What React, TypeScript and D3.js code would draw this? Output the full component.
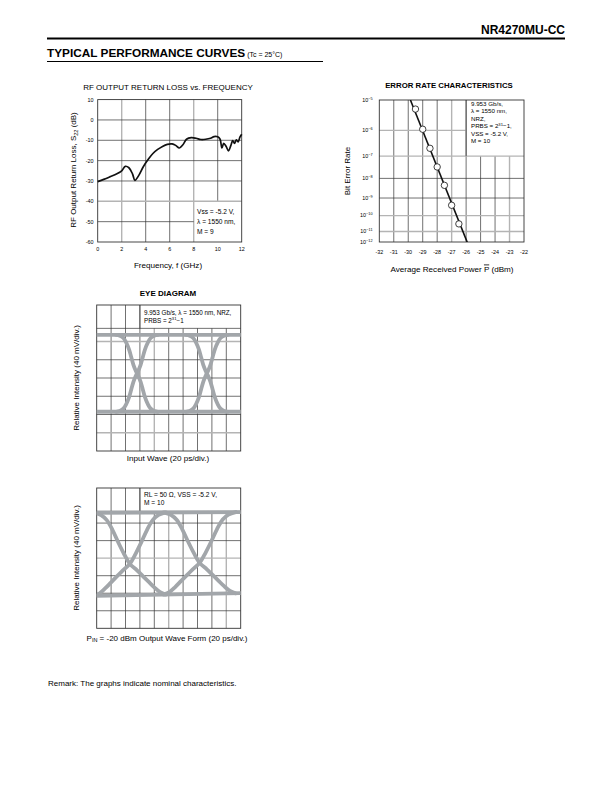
import React from 'react';
import * as d3 from 'd3';

const FONT = "'Liberation Sans', Arial, Helvetica, sans-serif";

// ---------- RF output return loss vs frequency ----------
const rfFreq = [0, 0.5, 1.0, 1.6, 2.0, 2.3, 2.6, 2.9, 3.1, 3.4, 3.8, 4.2, 4.6, 5.0, 5.4, 5.8, 6.2, 6.5, 6.8, 7.1, 7.4, 7.8, 8.2, 8.6, 9.0, 9.4, 9.7, 10.0, 10.2, 10.35, 10.5, 10.7, 10.9, 11.1, 11.25, 11.4, 11.55, 11.7, 11.85, 12.0];
const rfLoss = [-30.3, -29.2, -28.0, -26.5, -25.0, -22.8, -23.5, -26.5, -29.7, -27.5, -23.0, -19.5, -16.5, -14.5, -13.0, -12.0, -11.8, -12.5, -13.8, -12.2, -9.5, -8.7, -9.0, -9.6, -9.5, -9.0, -8.2, -8.3, -9.5, -13.8, -11.5, -13.0, -15.2, -12.5, -10.2, -11.5, -9.8, -10.8, -8.5, -7.0];
const rfXTicks = [0, 2, 4, 6, 8, 10, 12];
const rfYTicks = [10, 0, -10, -20, -30, -40, -50, -60];
const rfNote = ['Vss = -5.2 V,', 'λ = 1550 nm,', 'M = 9'];

// ---------- Error rate ----------
const berPower = [-29.5, -29.0, -28.5, -28.0, -27.5, -27.0, -26.5];
const berValue = [5.25e-6, 1.1e-6, 2.09e-7, 3.39e-8, 4.57e-9, 3.98e-10, 3.09e-11];
const berFitPower = [-29.85, -25.85];
const berFitValue = [1e-5, 1.2e-12];
const berXTicks = [-32, -31, -30, -29, -28, -27, -26, -25, -24, -23, -22];
const berExponents = [5, 6, 7, 8, 9, 10, 11, 12];
const berNote = ['9.953 Gb/s,', 'λ = 1550 nm,', 'NRZ,'];

// ---------- Eye diagrams (time in ps, level in divisions) ----------
const eyeTimeTicks = [0, 20, 40, 60, 80, 100, 120, 140, 160, 180, 200];
const eyeLevelTicks = [0, 1, 2, 3, 4, 5, 6, 7, 8];

const inCrossPs = [56, 153];
const inRailT = [0, 200];
const inUpper = [6.36, 6.36];
const inLower = [2.15, 2.15];
const inEdgeT = [-29, -24, -19, -15, -11, -8, -5, -2.5, 0, 2.5, 5, 8, 11, 15, 19, 24, 29];
const inEdgeLevel = [0, 0.01, 0.04, 0.1, 0.19, 0.29, 0.39, 0.45, 0.5, 0.55, 0.61, 0.71, 0.81, 0.9, 0.96, 0.99, 1];

const outCrossPs = [46, 143];
const outRailT = [0, 200];
const outUpper = [6.59, 6.63];
const outLower = [1.85, 2.0];
const outEdgeT = [-50, -42, -34, -26, -18, -10, 0, 8, 16, 24, 32, 40, 50];
const outEdgeLevel = [0, 0.03, 0.09, 0.16, 0.23, 0.3, 0.38, 0.5, 0.64, 0.79, 0.91, 0.97, 1];

const inNote = ['9.953 Gb/s, λ = 1550 nm, NRZ,'];
const outNote = ['RL = 50 Ω, VSS = -5.2 V,', 'M = 10'];

const DARK = '#333';
const LIGHT = '#b4b4b4';
const TRACE = '#a2a6aa';

function RFChart() {
  const x = d3.scaleLinear().domain([0, 12]).range([97.7, 241.7]);
  const y = d3.scaleLinear().domain([-60, 10]).range([242, 99.6]);
  const pts = rfFreq.map((f, i) => [f, rfLoss[i]] as [number, number]);
  const line = d3.line<[number, number]>().x(d => x(d[0])).y(d => y(d[1])).curve(d3.curveCatmullRom.alpha(0.5));
  const lightX = [2, 8];
  const lightY = [-40];
  return (
    <g fontFamily={FONT}>
      <text x={168} y={90} fontSize={8} textAnchor="middle">RF OUTPUT RETURN LOSS vs. FREQUENCY</text>
      {rfXTicks.slice(1, -1).map(t => (
        <line key={'vx' + t} x1={x(t)} x2={x(t)} y1={y(10)} y2={t > 8 ? y(-40) : y(-60)}
          stroke={lightX.includes(t) ? LIGHT : DARK} strokeWidth={lightX.includes(t) ? 1.4 : 0.7} />
      ))}
      {rfYTicks.slice(1, -1).map(t => (
        <line key={'hy' + t} x1={x(0)} x2={t < -40 ? x(8) : x(12)} y1={y(t)} y2={y(t)}
          stroke={lightY.includes(t) ? LIGHT : DARK} strokeWidth={lightY.includes(t) ? 1.4 : 0.7} />
      ))}
      <rect x={x(0)} y={y(10)} width={x(12) - x(0)} height={y(-60) - y(10)} fill="none" stroke={DARK} strokeWidth={0.9} />
      <path d={line(pts) || ''} fill="none" stroke="#111" strokeWidth={1.7} strokeLinejoin="round" />
      {rfYTicks.map(t => (
        <text key={'yl' + t} x={93.5} y={y(t) + 1.9} fontSize={5.4} textAnchor="end">{t}</text>
      ))}
      {rfXTicks.map(t => (
        <text key={'xl' + t} x={x(t)} y={251} fontSize={5.4} textAnchor="middle">{t}</text>
      ))}
      {rfNote.map((s, i) => (
        <text key={'n' + i} x={197} y={213.5 + i * 10} fontSize={6.6}>{s}</text>
      ))}
      <text x={168} y={268} fontSize={8.1} textAnchor="middle">Frequency, f (GHz)</text>
      <text transform={`translate(76,170) rotate(-90)`} fontSize={8} textAnchor="middle">
        RF Output Return Loss, S<tspan fontSize={5.5} dy={1.5}>22</tspan><tspan dy={-1.5}> (dB)</tspan>
      </text>
    </g>
  );
}

function BERChart() {
  const x = d3.scaleLinear().domain([-32, -22]).range([379.3, 524]);
  const yExp = d3.scaleLog().domain([5, 12]).range([100, 246]);
  const yB = (b: number) => Math.min(yExp(-Math.log10(b)), 246);
  const top = 100, bottom = 242;
  const yTick = (e: number) => Math.min(yExp(e), bottom);
  const fit = berFitPower.map((p, i) => [p, berFitValue[i]] as [number, number]);
  const line = d3.line<[number, number]>().x(d => x(d[0])).y(d => yB(d[1]));
  const lightV = [-27, -23];
  const lightH = [6, 7, 10, 11];
  const boxX = x(-26), boxY = yTick(7);
  return (
    <g fontFamily={FONT}>
      <defs>
        <clipPath id="berClip"><rect x={x(-32)} y={top} width={x(-22) - x(-32)} height={bottom - top} /></clipPath>
      </defs>
      <text x={449} y={88} fontSize={7.8} fontWeight="bold" textAnchor="middle">ERROR RATE CHARACTERISTICS</text>
      {berXTicks.slice(1, -1).map(t => (
        <line key={'v' + t} x1={x(t)} x2={x(t)} y1={t > -26 ? boxY : top} y2={bottom}
          stroke={lightV.includes(t) ? LIGHT : DARK} strokeWidth={lightV.includes(t) ? 1.4 : 0.7} />
      ))}
      {berExponents.slice(1, -1).map(e => (
        <line key={'h' + e} x1={x(-32)} x2={e < 7 ? boxX : x(-22)} y1={yTick(e)} y2={yTick(e)}
          stroke={lightH.includes(e) ? LIGHT : DARK} strokeWidth={lightH.includes(e) ? 1.4 : 0.7} />
      ))}
      <line x1={boxX} x2={boxX} y1={top} y2={boxY} stroke={DARK} strokeWidth={0.7} />
      <rect x={x(-32)} y={top} width={x(-22) - x(-32)} height={bottom - top} fill="none" stroke={DARK} strokeWidth={0.9} />
      <g clipPath="url(#berClip)">
        <path d={line(fit) || ''} fill="none" stroke="#111" strokeWidth={1.6} />
      </g>
      {berPower.map((p, i) => (
        <circle key={'c' + i} cx={x(p)} cy={yB(berValue[i])} r={3.2} fill="#fff" stroke="#111" strokeWidth={0.8} />
      ))}
      {berExponents.map(e => (
        <text key={'yl' + e} x={372.5} y={yTick(e) + 1.9} fontSize={5.4} textAnchor="end">
          10<tspan fontSize={3.8} dy={-2.3}>−{e}</tspan>
        </text>
      ))}
      {berXTicks.map(t => (
        <text key={'xl' + t} x={x(t)} y={254} fontSize={5.4} textAnchor="middle">{t}</text>
      ))}
      {berNote.map((s, i) => (
        <text key={'n' + i} x={471} y={106 + i * 7.4} fontSize={6.2}>{s}</text>
      ))}
      <text x={471} y={128.2} fontSize={6.2}>PRBS = 2<tspan fontSize={4.2} dy={-2.2}>31</tspan><tspan dy={2.2}>−1,</tspan></text>
      <text x={471} y={135.6} fontSize={6.2}>VSS = -5.2 V,</text>
      <text x={471} y={143} fontSize={6.2}>M = 10</text>
      <text x={452} y={271.5} fontSize={8.1} textAnchor="middle">
        Average Received Power <tspan style={{ textDecoration: 'overline' }}>P</tspan> (dBm)
      </text>
      <text transform={`translate(350,171) rotate(-90)`} fontSize={8} textAnchor="middle">Bit Error Rate</text>
    </g>
  );
}

type EyeProps = {
  id: string; top: number; bottom: number; boxLevel: number;
  cross: number[]; railT: number[]; upper: number[]; lower: number[];
  edgeT: number[]; edgeLevel: number[]; lightV: number[]; lightH: number[];
};

function Eye(p: EyeProps) {
  const x = d3.scaleLinear().domain([0, 200]).range([96.7, 240.7]);
  const y = d3.scaleLinear().domain([0, 8]).range([p.bottom, p.top]);
  const hiAt = d3.scaleLinear().domain(p.railT).range(p.upper);
  const loAt = d3.scaleLinear().domain(p.railT).range(p.lower);
  const line = d3.line<[number, number]>().x(d => x(d[0])).y(d => y(d[1])).curve(d3.curveCatmullRom.alpha(0.5));
  const paths: [number, number][][] = [];
  paths.push(p.railT.map((t, i) => [t, p.upper[i]] as [number, number]));
  paths.push(p.railT.map((t, i) => [t, p.lower[i]] as [number, number]));
  p.cross.forEach(c => {
    [1, -1].forEach(dir => {
      paths.push(p.edgeT.map((dt, i) => {
        const t = c + dir * dt;
        return [t, loAt(t) + p.edgeLevel[i] * (hiAt(t) - loAt(t))] as [number, number];
      }));
    });
  });
  const boxX = x(60), boxY = y(p.boxLevel);
  const hLevels = eyeLevelTicks.slice(1, -2).concat([p.boxLevel]);
  return (
    <g>
      <defs>
        <clipPath id={p.id}><rect x={x(0)} y={y(8)} width={x(200) - x(0)} height={y(0) - y(8)} /></clipPath>
      </defs>
      {eyeTimeTicks.slice(1, -1).map((t, i) => (
        <line key={'v' + t} x1={x(t)} x2={x(t)} y1={t > 60 ? boxY : y(8)} y2={y(0)}
          stroke={p.lightV.includes(i + 1) ? LIGHT : DARK} strokeWidth={p.lightV.includes(i + 1) ? 1.4 : 0.7} />
      ))}
      {hLevels.map(l => (
        <line key={'h' + l} x1={x(0)} x2={x(200)} y1={y(l)} y2={y(l)}
          stroke={p.lightH.includes(l) ? LIGHT : DARK} strokeWidth={p.lightH.includes(l) ? 1.4 : 0.7} />
      ))}
      <line x1={boxX} x2={boxX} y1={y(8)} y2={boxY} stroke={DARK} strokeWidth={0.7} />
      <rect x={x(0)} y={y(8)} width={x(200) - x(0)} height={y(0) - y(8)} fill="none" stroke={DARK} strokeWidth={0.9} />
      <g clipPath={`url(#${p.id})`}>
        {paths.map((d, i) => (
          <path key={i} d={line(d) || ''} fill="none" stroke={TRACE} strokeWidth={3.8} strokeLinecap="round" />
        ))}
      </g>
    </g>
  );
}

export default function App() {
  return (
    <svg width={612} height={792} viewBox="0 0 612 792" style={{ position: 'absolute', left: 0, top: 0, background: '#fff' }}>
      <rect width={612} height={792} fill="#fff" />
      <g fontFamily={FONT}>
        <text x={565} y={34} fontSize={12} fontWeight="bold" textAnchor="end">NR4270MU-CC</text>
        <line x1={47} x2={565} y1={38.5} y2={38.5} stroke="#000" strokeWidth={2} />
        <text x={47} y={57} fontSize={11.8} fontWeight="bold">
          TYPICAL PERFORMANCE CURVES<tspan fontSize={7} fontWeight="normal" dx={2}>(Tc = 25°C)</tspan>
        </text>
        <line x1={47} x2={323} y1={61.5} y2={61.5} stroke="#000" strokeWidth={1} />
      </g>
      <RFChart />
      <BERChart />

      <g fontFamily={FONT}>
        <text x={168} y={296} fontSize={8} fontWeight="bold" textAnchor="middle">EYE DIAGRAM</text>
      </g>
      <Eye id="eye1" top={305} bottom={451} boxLevel={6.72} cross={inCrossPs} railT={inRailT} upper={inUpper} lower={inLower}
        edgeT={inEdgeT} edgeLevel={inEdgeLevel} lightV={[4]} lightH={[6, 1]} />
      <g fontFamily={FONT}>
        <text x={144} y={314.5} fontSize={6.3}>{inNote[0]}</text>
        <text x={144} y={322.5} fontSize={6.3}>PRBS = 2<tspan fontSize={4.2} dy={-2.2}>31</tspan><tspan dy={2.2}>−1</tspan></text>
        <text x={168} y={460.5} fontSize={8.1} textAnchor="middle">Input Wave (20 ps/div.)</text>
        <text transform={`translate(79,378) rotate(-90)`} fontSize={8} textAnchor="middle">Relative Intensity (40 mV/div.)</text>
      </g>

      <Eye id="eye2" top={488} bottom={628.3} boxLevel={6.67} cross={outCrossPs} railT={outRailT} upper={outUpper} lower={outLower}
        edgeT={outEdgeT} edgeLevel={outEdgeLevel} lightV={[5, 9]} lightH={[4]} />
      <g fontFamily={FONT}>
        <text x={144} y={496.5} fontSize={6.6}>{outNote[0]}</text>
        <text x={144} y={505} fontSize={6.6}>{outNote[1]}</text>
        <text x={167} y={640.5} fontSize={8} textAnchor="middle">
          P<tspan fontSize={5.5} dy={1}>IN</tspan><tspan dy={-1}> = -20 dBm Output Wave Form (20 ps/div.)</tspan>
        </text>
        <text transform={`translate(79,558) rotate(-90)`} fontSize={8} textAnchor="middle">Relative Intensity (40 mV/div.)</text>
        <text x={48} y={686} fontSize={8}>Remark: The graphs indicate nominal characteristics.</text>
      </g>
    </svg>
  );
}
